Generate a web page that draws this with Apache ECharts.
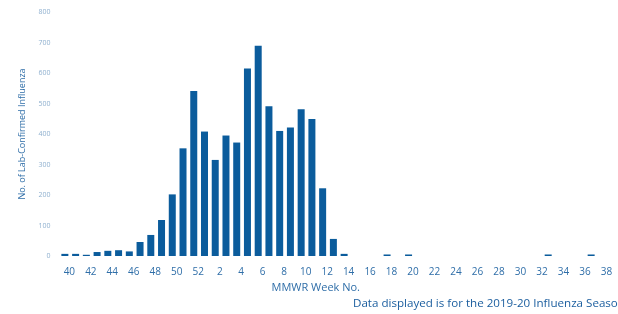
<!DOCTYPE html>
<html>
<head>
<meta charset="utf-8">
<script src="https://cdn.jsdelivr.net/npm/echarts@6/dist/echarts.min.js"></script>
<style>
  html, body { margin: 0; padding: 0; background: #fff; }
  #chart { width: 618px; height: 314px; }
</style>
</head>
<body>
<div id="chart"></div>
<script>
// MMWR weeks of the 2019-20 season
var weeks = ['40','41','42','43','44','45','46','47','48','49','50','51','52',
  '1','2','3','4','5','6','7','8','9','10','11','12','13','14','15','16','17','18','19',
  '20','21','22','23','24','25','26','27','28','29','30','31','32','33','34','35','36','37','38','39'];
// lab-confirmed influenza counts
var cases = [7, 7, 4, 13, 17, 19, 15, 46, 69, 118, 202, 353, 541,
  408, 315, 395, 372, 615, 689, 491, 410, 421, 481, 449, 222, 56, 7, 0, 0, 0, 5, 0,
  5, 0, 0, 0, 0, 0, 0, 0, 0, 0, 0, 0, 0, 5, 0, 0, 0, 5, 0, 0];
var yTicks = [0, 100, 200, 300, 400, 500, 600, 700, 800];

var myChart = echarts.init(document.getElementById('chart'));
var option = {
    animation: false,
    textStyle: { fontFamily: 'Open Sans' },
    grid: { left: 59.5, right: -11, top: 12, bottom: 58 },
    xAxis: {
        type: 'category',
        data: weeks,
        name: 'MMWR Week No.',
        nameLocation: 'middle',
        nameGap: 25,
        nameTextStyle: { color: '#2f6ea8', fontSize: 11, padding: [0, 46, 0, 0] },
        axisLine: { show: false },
        axisTick: { show: false },
        axisLabel: { interval: 1, color: '#2f6ea8', fontSize: 10, margin: 11, padding: [0, 0, 0, 9] }
    },
    yAxis: {
        type: 'value',
        min: yTicks[0],
        max: yTicks[yTicks.length - 1],
        interval: 100,
        name: 'No. of Lab-Confirmed Influenza',
        nameLocation: 'middle',
        nameGap: 33,
        nameTextStyle: { color: '#2f6ea8', fontSize: 9 },
        axisLine: { show: false },
        axisTick: { show: false },
        splitLine: { show: false },
        axisLabel: { color: '#8fb0cf', fontSize: 7, margin: 9 }
    },
    graphic: [{
        type: 'text',
        left: 353,
        top: 298,
        style: {
            text: 'Data displayed is for the 2019-20 Influenza Season',
            fill: '#1a5d9e',
            font: '11.6px "Open Sans"'
        }
    }],
    series: [{
        name: 'Cases',
        type: 'bar',
        data: cases,
        barWidth: 7,
        itemStyle: { color: '#0b5c9c' }
    }]
};
myChart.setOption(option);
</script>
</body>
</html>
